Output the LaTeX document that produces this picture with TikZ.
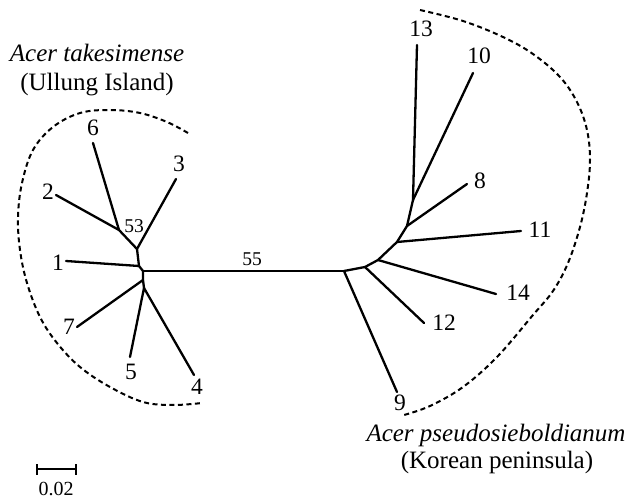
\documentclass[tikz,border=0pt]{standalone}
\usepackage{fontspec}
\setmainfont{Liberation Serif}
\begin{document}
\begin{tikzpicture}[x=1pt,y=-1pt,
  branch/.style={line width=2.3pt, line cap=round, line join=round},
  clade/.style={line width=2pt, dash pattern=on 5pt off 3.5pt},
  tip/.style={inner sep=0pt, font=\fontsize{23.5}{27}\selectfont},
  support/.style={inner sep=0pt, font=\fontsize{19.5}{22}\selectfont},
  species/.style={inner sep=0pt, anchor=base, font=\fontsize{25}{29}\selectfont\itshape},
  region/.style={inner sep=0pt, anchor=base, font=\fontsize{25}{29}\selectfont}]
\useasboundingbox (0,0) rectangle (630,500);

% ---- internal nodes, Ullung Island clade
\coordinate (n53) at (119,230);
\coordinate (nA)  at (137,249);
\coordinate (nB)  at (139,266);
\coordinate (nC)  at (143,271);
\coordinate (nD)  at (143,280);
\coordinate (nK)  at (144,288);
% ---- internal nodes, Korean peninsula clade
\coordinate (nE) at (344,271);
\coordinate (nF) at (365,267);
\coordinate (nG) at (378,260);
\coordinate (nH) at (397,242);
\coordinate (nI) at (407,226);
\coordinate (nJ) at (413,200);
% ---- leaves
\coordinate (t1)  at (66,261);
\coordinate (t2)  at (56,195);
\coordinate (t3)  at (176,179);
\coordinate (t4)  at (194,375);
\coordinate (t5)  at (130,357);
\coordinate (t6)  at (93,143);
\coordinate (t7)  at (77,327);
\coordinate (t8)  at (467,184);
\coordinate (t9)  at (397,392);
\coordinate (t10) at (473,73);
\coordinate (t11) at (521,231);
\coordinate (t12) at (424,323);
\coordinate (t13) at (417,45);
\coordinate (t14) at (496,294);

% ---- branches
\draw[branch] (t6) -- (n53) -- (nA) -- (nB) -- (nC) -- (nD) -- (nK);
\draw[branch] (t2) -- (n53);
\draw[branch] (t3) -- (nA);
\draw[branch] (t1) -- (nB);
\draw[branch] (t7) -- (nD);
\draw[branch] (t5) -- (nK) -- (t4);
\draw[branch] (nC) -- (nE);
\draw[branch] (t9) -- (nE) -- (nF) -- (nG) -- (nH) -- (nI) -- (nJ) -- (t13);
\draw[branch] (nF) -- (t12);
\draw[branch] (nG) -- (t14);
\draw[branch] (nH) -- (t11);
\draw[branch] (nI) -- (t8);
\draw[branch] (nJ) -- (t10);

% ---- leaf labels
\node[tip] (l1)  at (58,263)  {1};
\node[tip] (l2)  at (48,192)  {2};
\node[tip] (l3)  at (179,164) {3};
\node[tip] (l4)  at (197,387) {4};
\node[tip] (l5)  at (131,372) {5};
\node[tip] (l6)  at (93,128)  {6};
\node[tip] (l7)  at (69,327)  {7};
\node[tip] (l8)  at (480,181) {8};
\node[tip] (l9)  at (400,403) {9};
\node[tip] (l10) at (479,56)  {10};
\node[tip] (l11) at (540,230) {11};
\node[tip] (l12) at (444,323) {12};
\node[tip] (l13) at (421,29)  {13};
\node[tip] (l14) at (518,293) {14};

% ---- bootstrap support
\node[support] (b53) at (134,226) {53};
\node[support] (b55) at (252,259) {55};

% ---- clade outlines
\draw[clade] plot[smooth, tension=0.6] coordinates {
  (188,133) (167,122) (140,113) (110,110) (80,113) (53,127) (33,150)
  (22,183) (18,217) (20,250) (27,283) (40,317) (57,343) (80,367)
  (110,387) (143,402) (173,405) (202,403)};
\draw[clade] plot[smooth, tension=0.6] coordinates {
  (420,10) (463,21) (503,37) (533,54) (560,77) (577,102) (587,130)
  (590,160) (587,193) (580,227) (568,263) (553,291) (533,315)
  (497,357) (463,387) (430,406) (404,415)};

% ---- clade names
\node[species] (takesName)   at (97,62)   {Acer takesimense};
\node[region]  (takesRegion) at (97,91)   {(Ullung Island)};
\node[species] (pseudoName)  at (496,441) {Acer pseudosieboldianum};
\node[region]  (pseudoRegion) at (497,468) {(Korean peninsula)};

% ---- scale bar
\coordinate (sbL) at (37,469);
\coordinate (sbR) at (76,469);
\draw[line width=2.3pt] (sbL) -- (sbR);
\draw[line width=2.3pt] ([yshift=-5.5pt]sbL) -- ([yshift=5.5pt]sbL);
\draw[line width=2.3pt] ([yshift=-5.5pt]sbR) -- ([yshift=5.5pt]sbR);
\node[support, font=\fontsize{20}{24}\selectfont] (sbText) at (56,489) {0.02};
\end{tikzpicture}
\end{document}
